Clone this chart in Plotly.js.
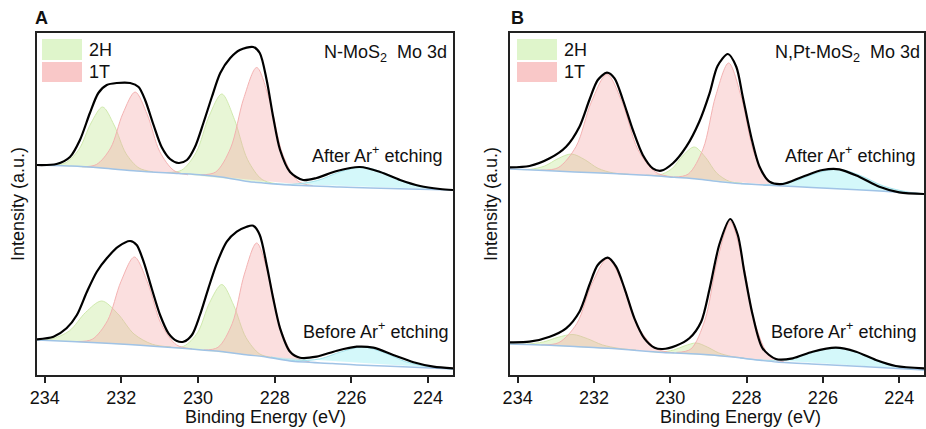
<!DOCTYPE html>
<html>
<head>
<meta charset="utf-8">
<script src="https://cdn.plot.ly/plotly-3.0.1.min.js"></script>
<style>html,body{margin:0;padding:0;background:#fff}#chart{width:926px;height:429px}</style>
</head>
<body>
<div id="chart"></div>
<script>
// ---------- Data (binding energy in eV, intensity in arbitrary units) ----------
const tickStart = 224, tickStep = 2, minorStep = 1;

// Panel A : N-MoS2, after Ar+ etching
const aAfterEnvE = [234.2,233.69,233.34,233.08,232.82,232.6,232.38,232.12,231.77,231.55,231.38,231.16,230.95,230.73,230.51,230.29,230.08,229.86,229.64,229.42,229.16,228.91,228.56,228.39,228.21,228.04,227.86,227.6,227.26,226.91,226.38,225.78,225.25,224.73,224.21,223.69,223.35];
const aAfterEnv  = [210,211,218,235,262,282,290,292,292,288,275,250,228,216,212,215,228,252,278,302,317,325,328,322,295,258,225,203,195,197,204,208,203,195,189,186,185];
const aAfterBaseE = [234.2,233.3,232.5,231.6,230.5,229.9,229.4,228.7,228.3,227.6,226.3,225.5,224.5,223.35];
const aAfterBase  = [210,209,207,204,201.5,200,198,193.5,192,190,188,187,186,185];
const aAfter2H1E = [233.8,233.44,233.1,232.79,232.49,232.19,231.88,231.54,231.18];
const aAfter2H1  = [209.6,212.5,226,252,268,250,221.5,207,203.2];
const aAfter1T1E = [233.02,232.65,232.28,231.96,231.64,231.32,231.0,230.63,230.26];
const aAfter1T1  = [208.2,210.5,227,261.5,283,260,223.5,204.5,200.2];
const aAfter2H2E = [230.82,230.43,230.05,229.71,229.38,229.05,228.71,228.33,227.94];
const aAfter2H2  = [202.5,204.8,222.5,259,281,255.5,215.5,195.5,191.2];
const aAfter1T2E = [229.93,229.54,229.15,228.81,228.47,228.13,227.79,227.4,227.01];
const aAfter1T2  = [200.2,203,227,276.5,307.5,274,220.5,194,189.4];
const aAfterS2sE = [228.25,227.57,226.89,226.30,225.70,225.11,224.51,223.83,223.15];
const aAfterS2s  = [192,190.7,194.4,203,208,201.5,191.4,186.1,185];

// Panel A : N-MoS2, before Ar+ etching
const aBeforeEnvE = [234.2,233.77,233.43,233.16,232.9,232.64,232.38,232.08,231.77,231.6,231.42,231.21,230.99,230.77,230.55,230.38,230.16,229.95,229.73,229.51,229.25,228.99,228.73,228.56,228.39,228.21,228.04,227.86,227.6,227.34,226.91,226.38,225.86,225.43,224.91,224.38,223.86,223.35];
const aBeforeEnv  = [35.7,38.3,46.7,60,83,103.3,116.7,128.3,134,130,113.3,86.7,60,41.7,34,33.3,40,60,86.7,111.7,133.3,143.3,148.3,149.3,140,110,76.7,46.7,23.3,17.3,18.3,24.3,28.3,27.3,20,12.7,8.3,6.7];
const aBeforeBaseE = [234.2,233.3,232.5,231.6,230.5,229.9,229.4,228.7,228.3,227.6,226.5,225.86,224.5,223.35];
const aBeforeBase  = [35,33.5,32,30,27,25,23.5,20,18.5,14,11.5,10,8,6];
const aBefore2H1E = [234.31,233.83,233.35,232.93,232.51,232.09,231.67,231.19,230.71];
const aBefore2H1  = [35.3,35.9,44.3,62.7,74,61.1,41,30.7,28.1];
const aBefore1T1E = [233.16,232.76,232.36,232.01,231.66,231.31,230.96,230.56,230.16];
const aBefore1T1  = [33.5,35.7,54.4,93.5,118,91.8,50.8,30.1,26.2];
const aBefore2H2E = [230.73,230.37,230.01,229.70,229.38,229.07,228.75,228.39,228.03];
const aBefore2H2  = [27.6,28.8,42.5,72.2,90.5,69.7,37.5,21,17.4];
const aBefore1T2E = [229.85,229.48,229.11,228.79,228.47,228.15,227.83,227.46,227.09];
const aBefore1T2  = [25,27.7,51.3,101,132,98,44.5,17.7,13.2];
const aBeforeS2sE = [228.1,227.46,226.82,226.26,225.7,225.14,224.58,223.94,223.3];
const aBeforeS2s  = [18,14.3,16.1,23.3,28,22.2,13.2,7.9,6];

// Panel B : N,Pt-MoS2, after Ar+ etching
const bAfterEnvE = [234.21,233.69,233.16,232.73,232.38,232.12,231.9,231.66,231.46,231.24,230.98,230.72,230.46,230.24,229.93,229.58,229.24,228.97,228.76,228.49,228.27,228.1,227.88,227.66,227.4,227.05,226.53,226.01,225.57,225.05,224.52,224.0,223.35];
const bAfterEnv  = [207.7,209,216.7,228.3,248.3,275,295,302.3,296.7,275,245,220,206.7,204.3,211.7,228.3,253.3,281.7,309,321,308.3,278.3,238.3,208.3,193.3,191,198.3,205,205.7,198.3,188.3,182.7,181];
const bAfterBaseE = [234.2,233.3,232.5,231.5,230.5,229.9,229.3,228.7,228.2,227.2,226.3,225.5,224.5,223.35];
const bAfterBase  = [206,204.5,203,201.5,199.5,197.7,196,193.3,191.5,189.3,187.5,186,184,181];
const bAfter2H1E = [234.09,233.69,233.29,232.94,232.59,232.24,231.89,231.49,231.09];
const bAfter2H1  = [205.8,205.6,209,216.4,221,215.3,206.6,202,200.8];
const bAfter1T1E = [233.40,232.94,232.47,232.07,231.66,231.25,230.85,230.38,229.92];
const bAfter1T1  = [204.9,207.3,228.4,272.8,300.7,271.5,225.6,202.7,198];
const bAfter2H2E = [230.63,230.29,229.96,229.66,229.37,229.08,228.78,228.45,228.11];
const bAfter2H2  = [199.9,200,206.1,219.8,228,217.8,201.8,193.6,191.8];
const bAfter1T2E = [229.91,229.53,229.14,228.81,228.47,228.13,227.80,227.41,227.03];
const bAfter1T2  = [197.9,200.9,226.1,279,312,276.7,221.5,194.1,189.2];
const bAfterS2sE = [228.15,227.47,226.79,226.20,225.6,225.0,224.41,223.73,223.05];
const bAfterS2s  = [191.3,190.5,193.4,201.4,206,199.2,188.9,182.7,180.5];

// Panel B : N,Pt-MoS2, before Ar+ etching
const bBeforeEnvE = [234.21,233.69,233.16,232.73,232.38,232.12,231.9,231.64,231.42,231.2,230.94,230.68,230.41,230.2,229.85,229.5,229.19,228.97,228.71,228.43,228.23,228.06,227.84,227.58,227.23,226.79,226.27,225.66,225.13,224.61,224.09,223.35];
const bBeforeEnv  = [32.7,33.3,38.3,46.7,63.3,90,110,117.3,108.3,86.7,56.7,36.7,27.3,26,29.3,36.7,53.3,86,131,156,140,103.3,60,26.7,16,16.7,23.3,27.3,23.3,15,9,6.7];
const bBeforeBaseE = [234.2,233.3,232.5,231.5,230.2,229.3,228.5,227.6,227.2,226.3,225.5,224.5,223.35];
const bBeforeBase  = [31,30,28.5,26.5,22.5,21,18.5,14.5,13,11,9.5,7.5,5];
const bBefore2H1E = [234.2,233.76,233.32,232.94,232.55,232.17,231.78,231.34,230.9];
const bBefore2H1  = [31,30.9,33.1,37.7,40.5,36.3,30.1,26.6,25];
const bBefore1T1E = [233.38,232.92,232.45,232.05,231.64,231.23,230.83,230.36,229.9];
const bBefore1T1  = [30.2,32.4,51.4,91.5,116.5,89.6,47.6,26.2,22.2];
const bBefore2H2E = [230.58,230.24,229.91,229.61,229.32,229.03,228.73,228.4,228.06];
const bBefore2H2  = [23.5,23,25,29.3,32,28,22.1,18.6,17];
const bBefore1T2E = [229.84,229.46,229.09,228.76,228.43,228.10,227.77,227.40,227.02];
const bBefore1T2  = [22.6,26,55.2,115.6,153.5,113.3,50.5,18.9,13.1];
const bBeforeS2sE = [228.17,227.49,226.81,226.22,225.62,225.03,224.43,223.75,223.07];
const bBeforeS2s  = [17,14.6,16.6,23.3,27.5,21.4,11.9,6.6,4.5];

// ---------- Styles ----------
const C = {
  h2Fill: 'rgba(189,230,137,0.35)', h2Line: 'rgba(205,232,170,0.95)',
  t1Fill: 'rgba(243,164,164,0.35)', t1Line: 'rgba(242,175,175,0.95)',
  sFill:  'rgba(148,238,243,0.40)', sLine:  'rgba(160,225,235,0.95)',
  base: 'rgb(160,195,230)', env: '#000'
};
const FONT = 'Arial, "Liberation Sans", Helvetica, sans-serif';

function fillTrace(x, y, fill, line, xa, ya) {
  return {type:'scatter', mode:'lines', x:x, y:y, xaxis:xa, yaxis:ya,
    fill:'toself', fillcolor:fill, line:{color:line, width:1, shape:'spline', smoothing:0.9},
    hoverinfo:'skip', showlegend:false};
}
function lineTrace(x, y, color, w, xa, ya) {
  return {type:'scatter', mode:'lines', x:x, y:y, xaxis:xa, yaxis:ya,
    line:{color:color, width:w, shape:'spline', smoothing:0.8},
    hoverinfo:'skip', showlegend:false};
}
function spectrum(s, xa, ya) {
  return [
    fillTrace(s.h21E, s.h21, C.h2Fill, C.h2Line, xa, ya),
    fillTrace(s.h22E, s.h22, C.h2Fill, C.h2Line, xa, ya),
    fillTrace(s.t11E, s.t11, C.t1Fill, C.t1Line, xa, ya),
    fillTrace(s.t12E, s.t12, C.t1Fill, C.t1Line, xa, ya),
    fillTrace(s.sE, s.s, C.sFill, C.sLine, xa, ya),
    lineTrace(s.baseE, s.base, C.base, 1.5, xa, ya),
    lineTrace(s.envE, s.env, C.env, 2.2, xa, ya)
  ];
}

const traces = [].concat(
  spectrum({envE:aAfterEnvE, env:aAfterEnv, baseE:aAfterBaseE, base:aAfterBase,
    h21E:aAfter2H1E, h21:aAfter2H1, h22E:aAfter2H2E, h22:aAfter2H2,
    t11E:aAfter1T1E, t11:aAfter1T1, t12E:aAfter1T2E, t12:aAfter1T2, sE:aAfterS2sE, s:aAfterS2s}, 'x', 'y'),
  spectrum({envE:aBeforeEnvE, env:aBeforeEnv, baseE:aBeforeBaseE, base:aBeforeBase,
    h21E:aBefore2H1E, h21:aBefore2H1, h22E:aBefore2H2E, h22:aBefore2H2,
    t11E:aBefore1T1E, t11:aBefore1T1, t12E:aBefore1T2E, t12:aBefore1T2, sE:aBeforeS2sE, s:aBeforeS2s}, 'x', 'y'),
  spectrum({envE:bAfterEnvE, env:bAfterEnv, baseE:bAfterBaseE, base:bAfterBase,
    h21E:bAfter2H1E, h21:bAfter2H1, h22E:bAfter2H2E, h22:bAfter2H2,
    t11E:bAfter1T1E, t11:bAfter1T1, t12E:bAfter1T2E, t12:bAfter1T2, sE:bAfterS2sE, s:bAfterS2s}, 'x2', 'y2'),
  spectrum({envE:bBeforeEnvE, env:bBeforeEnv, baseE:bBeforeBaseE, base:bBeforeBase,
    h21E:bBefore2H1E, h21:bBefore2H1, h22E:bBefore2H2E, h22:bBefore2H2,
    t11E:bBefore1T1E, t11:bBefore1T1, t12E:bBefore1T2E, t12:bBefore1T2, sE:bBeforeS2sE, s:bBeforeS2s}, 'x2', 'y2')
);

const W = 926, H = 429;
const px = v => v / W, py = v => 1 - v / H;
const tf = {family:FONT, size:18, color:'#111'};
const RANGE = [234.2, 223.35];

function xAxis(domain, anchor) {
  return {domain:domain, anchor:anchor, range:RANGE, autorange:false,
    showline:true, linecolor:'#222', linewidth:1.6, mirror:true,
    ticks:'outside', ticklen:6, tickwidth:1.5, tickcolor:'#222',
    tickmode:'linear', tick0:tickStart, dtick:tickStep,
    tickfont:tf,
    showgrid:false, zeroline:false, automargin:false, fixedrange:true};
}
// overlay axis carrying only the short (minor) ticks
function xMinor(domain, anchor, over) {
  return {domain:domain, anchor:anchor, overlaying:over, side:'bottom', range:RANGE, autorange:false,
    showline:false, ticks:'outside', ticklen:3.5, tickwidth:1.3, tickcolor:'#222',
    tickmode:'linear', tick0:tickStart + 1, dtick:minorStep * 2, showticklabels:false,
    showgrid:false, zeroline:false, automargin:false, fixedrange:true};
}
function yAxis(domain, anchor) {
  return {domain:domain, anchor:anchor, range:[0, 342], autorange:false,
    showline:true, linecolor:'#222', linewidth:1.6, mirror:true,
    title:{text:'Intensity (a.u.)', font:tf, standoff:6},
    ticks:'', showticklabels:false, showgrid:false, zeroline:false, automargin:false, fixedrange:true};
}

const ydom = [py(375), py(33)];
function ann(text, x, y, xanchor, extra) {
  return Object.assign({text:text, x:x, y:y, xref:'paper', yref:'paper', xanchor:xanchor, yanchor:'middle',
    showarrow:false, font:tf}, extra || {});
}
const sp = '\u00a0\u00a0';
const annotations = [
  ann('<b>A</b>', px(33), py(18), 'left'),
  ann('<b>B</b>', px(509), py(18), 'left'),
  ann('2H', px(87), py(50), 'left'),
  ann('1T', px(87), py(72), 'left'),
  ann('2H', px(562), py(50), 'left'),
  ann('1T', px(562), py(72), 'left'),
  ann('N-MoS<sub>2</sub>' + sp + 'Mo 3d', px(449), py(53), 'right'),
  ann('After Ar<sup>+</sup> etching', px(444), py(154), 'right'),
  ann('Before Ar<sup>+</sup> etching', px(450), py(330), 'right'),
  ann('N,Pt-MoS<sub>2</sub>' + sp + 'Mo 3d', px(922), py(53), 'right'),
  ann('After Ar<sup>+</sup> etching', px(917), py(154), 'right'),
  ann('Before Ar<sup>+</sup> etching', px(918), py(330), 'right'),
  ann('Binding Energy (eV)', px(265), py(417), 'center'),
  ann('Binding Energy (eV)', px(740), py(417), 'center')
];

function rect(x0, x1, y0, y1, color) {
  return {type:'rect', xref:'paper', yref:'paper', x0:px(x0), x1:px(x1), y0:py(y1), y1:py(y0),
    fillcolor:color, line:{width:0}, layer:'above'};
}
const shapes = [
  rect(42, 82, 39, 60, '#dff5cb'), rect(42, 82, 62, 82, '#f9c8c8'),
  rect(517, 557, 39, 60, '#dff5cb'), rect(517, 557, 62, 82, '#f9c8c8')
];

const domA = [px(37), px(453)], domB = [px(510), px(924)];
const layout = {
  width:W, height:H, margin:{l:0, r:0, t:0, b:0},
  paper_bgcolor:'#fff', plot_bgcolor:'#fff', showlegend:false,
  xaxis: xAxis(domA, 'y'),
  yaxis: yAxis(ydom, 'x'),
  xaxis2: xAxis(domB, 'y2'),
  yaxis2: yAxis(ydom, 'x2'),
  xaxis3: xMinor(domA, 'y', 'x'),
  xaxis4: xMinor(domB, 'y2', 'x2'),
  annotations:annotations, shapes:shapes,
  font:tf
};

Plotly.newPlot('chart', traces, layout, {displayModeBar:false});
</script>
</body>
</html>
